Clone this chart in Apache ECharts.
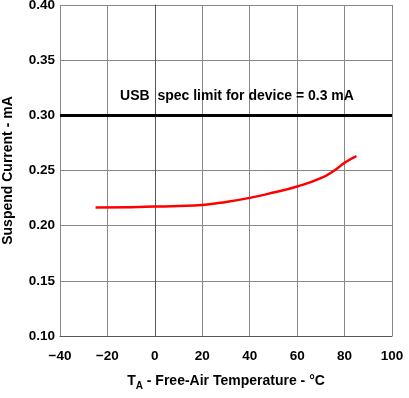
<!DOCTYPE html>
<html>
<head>
<meta charset="utf-8">
<script src="https://cdn.jsdelivr.net/npm/echarts@6/dist/echarts.min.js"></script>
<style>
  html, body { margin: 0; padding: 0; background: #fff; }
  #chart { width: 409px; height: 398px; }
</style>
</head>
<body>
<div id="chart"></div>
<script>
  // temperature (°C) and suspend current (mA)
  const temps = [-25, -10, 0, 10, 20, 30, 40, 50, 60, 70, 76, 80, 85]
  const current = [0.2164, 0.2168, 0.2173, 0.2178, 0.2188, 0.2215, 0.2252, 0.23, 0.2355, 0.243, 0.2505, 0.257, 0.263]
  const specLimit = 0.3
  const specLabel = 'USB  spec limit for device = 0.3 mA'

  const chart = echarts.init(document.getElementById('chart'))
  const font = 'Liberation Sans, Arial, sans-serif'

  chart.setOption({
    animation: false,
    grid: { left: 60, right: 17, top: 5, bottom: 62, outerBoundsMode: 'none' },
    xAxis: {
      type: 'value',
      min: -40,
      max: 100,
      interval: 20,
      name: '{t|T}{s|A}{t| - Free-Air Temperature - °C}',
      nameLocation: 'middle',
      nameGap: 36,
      nameTextStyle: {
        rich: {
          t: { fontFamily: font, fontSize: 14, fontWeight: 'bold', color: '#000' },
          s: { fontFamily: font, fontSize: 10, fontWeight: 'bold', color: '#000', padding: [9, 0, 0, 0] }
        }
      },
      axisLine: { show: true, lineStyle: { color: '#555', width: 1 } },
      axisTick: { show: false },
      axisLabel: {
        color: '#000', fontFamily: font, fontSize: 13.5, fontWeight: 'bold', margin: 13,
        formatter: v => String(v).replace('-', '\u2212')
      },
      splitLine: { show: true, lineStyle: { color: '#888', width: 1 } }
    },
    yAxis: {
      type: 'value',
      min: 0.1,
      max: 0.4,
      interval: 0.05,
      name: 'Suspend Current - mA',
      nameLocation: 'middle',
      nameGap: 45,
      nameTextStyle: { fontFamily: font, fontSize: 14, fontWeight: 'bold', color: '#000' },
      axisLine: { show: true, lineStyle: { color: '#555', width: 1 } },
      axisTick: { show: false },
      axisLabel: {
        color: '#000', fontFamily: font, fontSize: 13.5, fontWeight: 'bold', margin: 5,
        formatter: v => v.toFixed(2)
      },
      splitLine: { show: true, lineStyle: { color: '#888', width: 1 } }
    },
    series: [
      {
        type: 'line',
        data: temps.map((t, i) => [t, current[i]]),
        smooth: true,
        showSymbol: false,
        lineStyle: { color: '#ff0000', width: 2.5 },
        markLine: {
          silent: true,
          symbol: 'none',
          data: [{ yAxis: specLimit }],
          lineStyle: { color: '#000', width: 3, type: 'solid' },
          label: {
            position: 'insideMiddleTop',
            formatter: specLabel,
            color: '#000',
            fontFamily: font,
            fontSize: 14,
            fontWeight: 'bold',
            distance: 12,
            offset: [11, 0]
          }
        }
      }
    ]
  })
</script>
</body>
</html>
